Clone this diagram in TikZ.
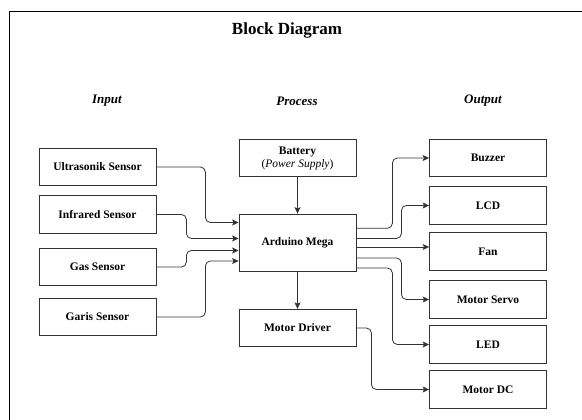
\documentclass[tikz,border=0pt]{standalone}
\usepackage{fontspec}
\setmainfont{Liberation Serif}
\usetikzlibrary{arrows.meta}
\tikzset{
	blk/.style={draw=black!80, line width=0.8pt, minimum width=117pt, minimum height=37.5pt, inner sep=0pt, align=center, font=\fontsize{11.5}{13}\selectfont\bfseries},
	link/.style={draw=black!80, line width=0.8pt, rounded corners=5pt, -{Stealth[length=6.5pt,width=6pt,inset=1.5pt]}},
	head/.style={font=\fontsize{13}{15}\selectfont\bfseries\itshape}
}

\begin{document}
\begin{tikzpicture}[x=1pt, y=-1pt]
		%%%%% START %%%%%
		\useasboundingbox (0,0) rectangle (582,420);
		\draw[line width=0.8pt] (9.5,420) -- (9.5,11) -- (582,11);
		
		\node[font=\fontsize{17}{19}\selectfont\bfseries] (title) at (287, 30) {Block Diagram};
		\node[head] (hin) at (107, 101) {Input};
		\node[head] (hproc) at (297, 101) {Process};
		\node[head] (hout) at (483, 101) {Output};
		
		% input
		\node[blk] (us) at (97.5, 167) {Ultrasonik Sensor};
		\node[blk] (ir) at (97.5, 214.5) {Infrared Sensor};
		\node[blk] (gas) at (97.5, 267) {Gas Sensor};
		\node[blk] (garis) at (97.5, 317) {Garis Sensor};
		
		% process
		\node[blk] (bat) at (297.5, 158) {Battery\\{\mdseries(\textit{Power Supply})}};
		\node[blk, minimum height=57pt] (ard) at (297.5, 242.5) {Arduino Mega};
		\node[blk] (drv) at (297.5, 328) {Motor Driver};
		
		% output
		\node[blk] (buz) at (488, 158) {Buzzer};
		\node[blk] (lcd) at (488, 205.5) {LCD};
		\node[blk] (fan) at (488, 251.5) {Fan};
		\node[blk] (srv) at (488, 299.5) {Motor Servo};
		\node[blk] (led) at (488, 344.5) {LED};
		\node[blk] (mdc) at (488, 389.5) {Motor DC};
		
		\draw[link] (us.east) -- ++(49,0) |- ([yshift=20pt]ard.west);
		\draw[link] (ir.east) -- ++(30,0) |- ([yshift=4pt]ard.west);
		\draw[link] (gas.east) -- ++(30,0) |- ([yshift=-8pt]ard.west);
		\draw[link] (garis.east) -- ++(49,0) |- ([yshift=-18.5pt]ard.west);
		
		\draw[link] (bat) -- (ard);
		\draw[link] (ard) -- (drv);
		
		\draw[link] ([yshift=14.2pt]ard.east) -- ++(36,0) |- (buz.west);
		\draw[link] ([yshift=4pt]ard.east) -- ++(45,0) |- (lcd.west);
		\draw[link] ([yshift=-4.5pt]ard.east) -- ([yshift=4.5pt]fan.west);
		\draw[link] ([yshift=-15.5pt]ard.east) -- ++(45,0) |- (srv.west);
		\draw[link] ([yshift=-25.5pt]ard.east) -- ++(36,0) |- (led.west);
		\draw[link] (drv.east) -- ++(15,0) |- (mdc.west);
		
		%%%%% END %%%%%
	\end{tikzpicture}
\end{document}
